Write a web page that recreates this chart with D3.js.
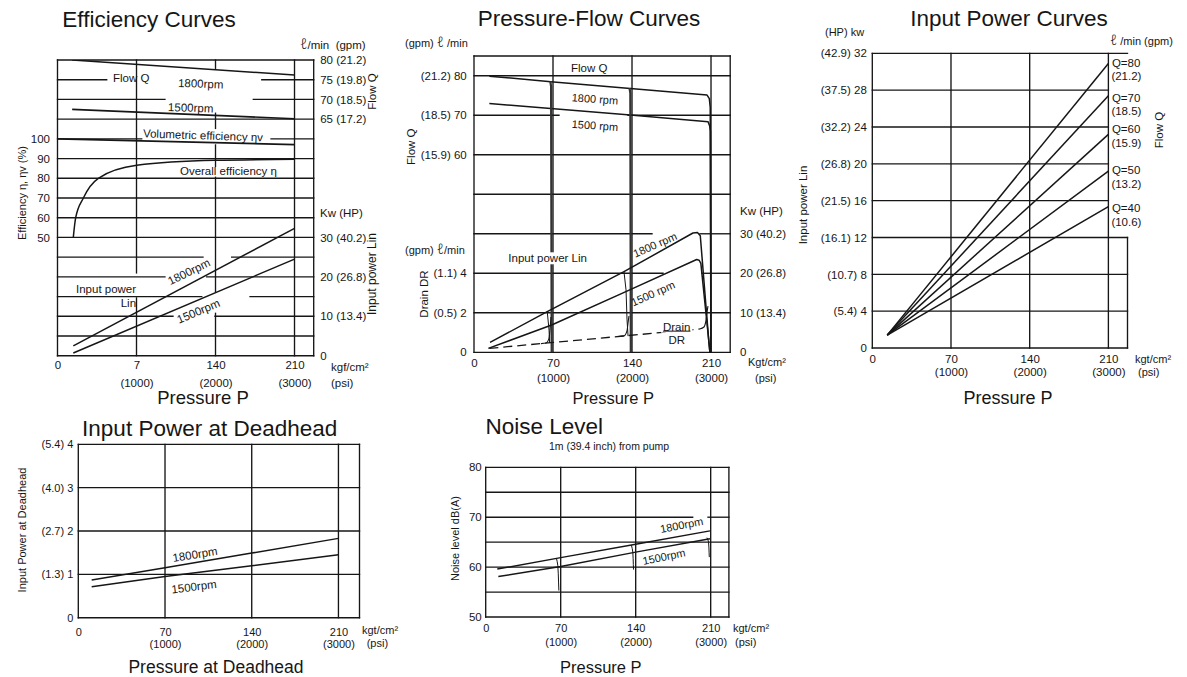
<!DOCTYPE html>
<html><head><meta charset="utf-8">
<script src="https://cdn.jsdelivr.net/npm/d3@7"></script>
<style>body{margin:0;background:#fff}</style>
</head><body>
<script>
// ================= DATA =================
const pressureTicks = [0, 70, 140, 210];
const pressureLabels = ['0', '70', '140', '210'];
const pressureLabelsEff = ['0', '7', '140', '210'];
const psiLabels = ['', '(1000)', '(2000)', '(3000)'];

// --- Efficiency Curves ---
const effFlowTicks = [80, 75, 70, 65];
const effFlowLabels = ['80 (21.2)', '75 (19.8)', '70 (18.5)', '65 (17.2)'];
const effEffTicks = [100, 90, 80, 70, 60, 50];
const effPowerTicks = [30, 20, 10, 0];
const effPowerLabels = ['30 (40.2)', '20 (26.8)', '10 (13.4)', '0'];
const effFlow1800 = [[13, 80], [210, 76.2]];
const effFlow1500 = [[13, 67.5], [210, 65.1]];
const effVolumetric = [[0, 100], [210, 97.1]];
const effOverall = [[14, 50], [16.1, 60], [22.9, 70], [36.2, 80], [70.2, 86.6], [139.6, 89.1], [210, 89.6]];
const effPower1800 = [[14, 2.5], [210, 32.3]];
const effPower1500 = [[14, 0.7], [210, 24.5]];
const effRows = d3.range(0, 16);
const effHGaps = [[1, 43.6, 181], [2, 95.2, 173.5], [4, 74.6, 189.2], [10, 128.9, 154.3], [11, 95.2, 132.2], [12, 127.8, 170.6], [13, 102.3, 139.5]];
const effVGaps = [[140, 0.42, 2.7], [140, 3.47, 4.31], [140, 5.4, 5.95], [140, 11.76, 12.85], [70, 10.8, 12.07]];

// --- Pressure-Flow Curves ---
const pfFlowTicks = [80, 70, 60];
const pfFlowLabels = ['(21.2) 80', '(18.5) 70', '(15.9) 60'];
const pfDrainTicks = [4, 2, 0];
const pfDrainLabels = ['(1.1) 4', '(0.5) 2', '0'];
const pfPowerTicks = [30, 20, 10, 0];
const pfPowerLabels = ['30 (40.2)', '20 (26.8)', '10 (13.4)', '0'];
const pfGridPower = [75, 70, 60, 50, 40, 30, 20, 10, 0];
const pfHGaps = [[60, 75.3, 136.5], [30, 157.7, 200.2], [20, 167.5, 202]];
const pfFlow1800 = [[13.6, 79.9], [68, 78.5], [138.5, 76.8], [206.5, 75.1], [208.5, 74.2], [209.3, 72], [210, 0]];
const pfFlow1500 = [[13.6, 73], [68, 71.7], [138.5, 70.05], [207.4, 68.35], [208.8, 67.3], [209.5, 66], [210, 0]];
const pfFlowCut70 = [[67.6, 78.6], [68.3, 77.3], [68.9, 0]];
const pfFlowCut140 = [[137.8, 76.9], [138.5, 75.6], [139, 0]];
const pfPower1800 = [[14.2, 2.5], [64.9, 10.3], [132.9, 20.4], [194, 30.2], [198, 30.3], [200.5, 29.5], [208, 3], [209, 0]];
const pfPower1500 = [[12.7, 1.0], [68.8, 6.9], [138, 15.8], [197.3, 23.5], [199.5, 23.3], [201, 22.5], [208, 3], [209, 0]];
const pfPowerCut70 = [[64.9, 10.3], [66.5, 5.6], [67, 2.35]];
const pfPowerCut140 = [[132.9, 20.4], [134.7, 15.8], [135.6, 8.2], [136.5, 4.1]];
const pfDrain = [[13.6, 0.2], [200, 1.18]];
const pfDrainRise70 = [[59.4, 0.44], [63.8, 0.47], [66.5, 0.72], [67.3, 1.13], [68.2, 1.79]];
const pfDrainRise140 = [[127.6, 0.8], [132.9, 0.83], [135.6, 1.1], [136.5, 1.5], [137.3, 1.84]];
const pfDrainRise210 = [[200, 1.18], [203.8, 1.28], [205.6, 1.64], [206.5, 2.04], [207.3, 2.34]];

// --- Input Power Curves ---
const ipcPowerTicks = [32, 28, 24, 20, 16, 12, 8, 4, 0];
const ipcPowerLabels = ['(42.9) 32', '(37.5) 28', '(32.2) 24', '(26.8) 20', '(21.5) 16', '(16.1) 12', '(10.7) 8', '(5.4) 4', '0'];
const ipcFlowLabels = ['Q=80', 'Q=70', 'Q=60', 'Q=50', 'Q=40'];
const ipcGpmLabels = ['(21.2)', '(18.5)', '(15.9)', '(13.2)', '(10.6)'];
const ipcStart = [13.3, 1.4];
const ipcEndPower = [30.9, 27.4, 23.2, 19.2, 15.35];
const ipcLabelPower = [30.95, 27.15, 23.78, 19.33, 15.2];

// --- Input Power at Deadhead ---
const dhPowerTicks = [4, 3, 2, 1, 0];
const dhPowerLabels = ['(5.4) 4', '(4.0) 3', '(2.7) 2', '(1.3) 1', '0'];
const dh1800 = [[10.8, 0.87], [70, 1.15], [140, 1.49], [210, 1.83]];
const dh1500 = [[10.8, 0.715], [70, 0.95], [140, 1.2], [210, 1.45]];

// --- Noise Level ---
const noiseTicks = [80, 70, 60, 50];
const noiseGrid = [80, 75, 70, 65, 60, 55, 50];
const noiseHGaps = [[70, 193.2, 207.5]];
const noise1800 = [[10.8, 59.6], [70, 61.9], [140, 64.6], [209.3, 67.26]];
const noise1500 = [[11.8, 58.1], [70, 60.1], [140, 63], [209.3, 65.7]];
const noiseDip70 = [[66, 61.8], [67.3, 60.3], [68, 57], [68.3, 55.3]];
const noiseDip140 = [[136, 64.4], [137.3, 63], [137.8, 60.5], [138, 59.5]];
const noiseDip210 = [[206.5, 65.9], [208, 65], [208.5, 63], [208.7, 62]];

// ================= DRAWING =================
const FONT = "'Liberation Sans', Arial, Helvetica, sans-serif";
const INK = '#161616';
const GW = 1.35;
const TITLE = 22.5;
const svg = d3.select('body').append('svg').attr('width', 1187).attr('height', 677).style('display', 'block');
svg.append('rect').attr('width', 1187).attr('height', 677).attr('fill', '#fff');
const defs = svg.append('defs');

function addClip(id, x, y, w, h) {
  defs.append('clipPath').attr('id', id).append('rect').attr('x', x).attr('y', y).attr('width', w).attr('height', h);
}
function text(g, x, y, s, o = {}) {
  const t = g.append('text').attr('x', x).attr('y', y)
    .attr('font-family', FONT).attr('font-size', o.size || 11).attr('fill', INK)
    .attr('text-anchor', o.anchor || 'start');
  const parts = String(s).split(/(ℓ)/);
  parts.forEach(p => {
    if (!p) return;
    const ts = t.append('tspan').text(p);
    if (p === 'ℓ') ts.attr('font-size', '1.3em').attr('font-family', "'Noto Sans', 'Open Sans', sans-serif").attr('font-weight', 300);
  });
  if (!o.base) t.attr('dy', '0.35em');
  if (o.rotate) t.attr('transform', `rotate(${o.rotate},${x},${y})`);
  if (o.bg) {
    const b = t.node().getBBox();
    g.insert('rect', () => t.node()).attr('x', b.x - 2).attr('y', b.y).attr('width', b.width + 4).attr('height', b.height)
      .attr('fill', '#fff').attr('transform', o.rotate ? `rotate(${o.rotate},${x},${y})` : null);
  }
  return t;
}
function segments(a, b, gaps) {
  let s = [[a, b]];
  gaps.forEach(([g0, g1]) => {
    s = s.flatMap(([s0, s1]) => {
      if (g1 <= s0 || g0 >= s1) return [[s0, s1]];
      const out = [];
      if (g0 > s0) out.push([s0, g0]);
      if (g1 < s1) out.push([g1, s1]);
      return out;
    });
  });
  return s;
}
function hGrid(g, x, yPix, p0, p1, gaps = []) {
  segments(p0, p1, gaps).forEach(([a, b]) => g.append('line')
    .attr('x1', x(a)).attr('x2', x(b)).attr('y1', yPix).attr('y2', yPix)
    .attr('stroke', INK).attr('stroke-width', GW).attr('stroke-linecap', 'square'));
}
function vGrid(g, xPix, y, v0, v1, gaps = []) {
  segments(v0, v1, gaps).forEach(([a, b]) => g.append('line')
    .attr('x1', xPix).attr('x2', xPix).attr('y1', y(a)).attr('y2', y(b))
    .attr('stroke', INK).attr('stroke-width', GW).attr('stroke-linecap', 'square'));
}
function curve(g, x, y, data, o = {}) {
  g.append('path').datum(data)
    .attr('d', d3.line().x(d => x(d[0])).y(d => y(d[1])).curve(o.curve || d3.curveLinear))
    .attr('fill', 'none').attr('stroke', o.color || INK).attr('stroke-width', o.width || 1.5)
    .attr('stroke-dasharray', o.dash || null).attr('stroke-linejoin', 'round')
    .attr('clip-path', o.clip ? `url(#${o.clip})` : null);
}
function styleAxis(a, size) {
  a.select('.domain').remove();
  a.attr('font-family', FONT).attr('font-size', size);
  a.selectAll('text').attr('fill', INK);
  return a;
}
function leftAxis(g, y, xPix, ticks, labels, pad, size = 11.5) {
  return styleAxis(g.append('g').attr('transform', `translate(${xPix},0)`)
    .call(d3.axisLeft(y).tickValues(ticks).tickSize(0).tickPadding(pad).tickFormat((d, i) => labels[i])), size);
}
function rightAxis(g, y, xPix, ticks, labels, pad, size = 11.5) {
  return styleAxis(g.append('g').attr('transform', `translate(${xPix},0)`)
    .call(d3.axisRight(y).tickValues(ticks).tickSize(0).tickPadding(pad).tickFormat((d, i) => labels[i])), size);
}
function bottomAxis(g, x, yPix, labels, off, size = 11.5) {
  const a = styleAxis(g.append('g').attr('transform', `translate(0,${yPix})`)
    .call(d3.axisBottom(x).tickValues(pressureTicks).tickSize(0).tickFormat((d, i) => labels[i])), size);
  a.selectAll('text').attr('y', off).attr('dy', '0.35em');
}

// ---------- Panel 1: Efficiency Curves ----------
{
  const g = svg.append('g');
  const x = d3.scaleLinear([0, 227], [57.5, 313.7]);
  const row = d3.scaleLinear([0, 15], [60, 355.7]);
  const yFlow = d3.scaleLinear([80, 5], [60, 355.7]);
  const yEff = d3.scaleLinear([140, -10], [60, 355.7]);
  const yPow = d3.scaleLinear([75, 0], [60, 355.7]);
  addClip('c1', 57.5, 60, 256.2, 295.7);

  effRows.forEach(r => hGrid(g, x, row(r), 0, 227, effHGaps.filter(d => d[0] === r).map(d => [d[1], d[2]])));
  [0, 70, 140, 210, 227].forEach(p => vGrid(g, x(p), row, 0, 15, effVGaps.filter(d => d[0] === p).map(d => [d[1], d[2]])));

  curve(g, x, yFlow, effFlow1800, { clip: 'c1' });
  curve(g, x, yFlow, effFlow1500, { clip: 'c1', width: 1.7 });
  curve(g, x, yEff, effVolumetric, { clip: 'c1', width: 1.7 });
  curve(g, x, yEff, effOverall, { clip: 'c1', curve: d3.curveMonotoneX });
  curve(g, x, yPow, effPower1800, { clip: 'c1' });
  curve(g, x, yPow, effPower1500, { clip: 'c1' });

  text(g, x(49.2), yFlow(75.4), 'Flow Q', { size: 11.5 });
  text(g, x(106.8), yFlow(74.2), '1800rpm', { size: 11.5, rotate: 2 });
  text(g, x(97.9), yFlow(68.1), '1500rpm', { size: 11.5, rotate: 2 });
  text(g, x(75.8), yEff(102.8), 'Volumetric efficiency ηv', { size: 11.5, rotate: 2 });
  text(g, x(108.5), yEff(83.6), 'Overall efficiency η', { size: 11.5 });
  text(g, x(16.4), yPow(16.8), 'Input power', { size: 11.5 });
  text(g, x(56), yPow(13.3), 'Lin', { size: 11.5 });
  text(g, x(116.5), yPow(21.3), '1800rpm', { size: 11.5, anchor: 'middle', rotate: -26 });
  text(g, x(124.8), yPow(11.3), '1500rpm', { size: 11.5, anchor: 'middle', rotate: -23 });

  leftAxis(g, yEff, 57.5, effEffTicks, effEffTicks.map(String), 7.5);
  rightAxis(g, yFlow, 313.7, effFlowTicks, effFlowLabels, 6.5);
  rightAxis(g, yPow, 313.7, effPowerTicks, effPowerLabels, 6.5);
  bottomAxis(g, x, 355.7, pressureLabelsEff, 9.5);
  bottomAxis(g, x, 355.7, psiLabels, 27);

  text(g, 149, 27, 'Efficiency Curves', { size: TITLE, anchor: 'middle', base: true });
  text(g, 300, 45, 'ℓ/min\u00a0\u00a0(gpm)', { size: 11.5 });
  text(g, 320, 213, 'Kw (HP)', { size: 11.5 });
  text(g, 372, 91.5, 'Flow Q', { size: 11.5, anchor: 'middle', rotate: -90 });
  text(g, 372, 274, 'Input power Lin', { size: 12, anchor: 'middle', rotate: -90 });
  text(g, 22, 193, 'Efficiency η, ηv (%)', { size: 11, anchor: 'middle', rotate: -90 });
  text(g, 331, 367, 'kgf/cm²', { size: 11.5 });
  text(g, 331, 382.5, '(psi)', { size: 11.5 });
  text(g, 203, 403.5, 'Pressure P', { size: 18.5, anchor: 'middle', base: true });
}

// ---------- Panel 2: Pressure-Flow Curves ----------
{
  const g = svg.append('g');
  const x = d3.scaleLinear([0, 227], [474, 730.2]);
  const yPow = d3.scaleLinear([75, 0], [56, 352.3]);
  const yFlow = d3.scaleLinear([85, 10], [56, 352.3]);
  const yDrain = d3.scaleLinear([15, 0], [56, 352.3]);
  addClip('c2', 474, 56, 256.2, 296.3);

  pfGridPower.forEach(v => hGrid(g, x, yPow(v), 0, 227, pfHGaps.filter(d => d[0] === v).map(d => [d[1], d[2]])));
  [0, 70, 140, 210, 227].forEach(p => vGrid(g, x(p), yPow, 0, 75));

  curve(g, x, yFlow, pfFlow1800, { clip: 'c2' });
  curve(g, x, yFlow, pfFlow1500, { clip: 'c2' });
  curve(g, x, yFlow, pfFlowCut70, { clip: 'c2', width: 2.2, color: '#333' });
  curve(g, x, yFlow, pfFlowCut140, { clip: 'c2', width: 2.2, color: '#333' });
  curve(g, x, yPow, pfPower1800, { clip: 'c2' });
  curve(g, x, yPow, pfPower1500, { clip: 'c2' });
  curve(g, x, yPow, pfPowerCut70, { clip: 'c2', width: 1 });
  curve(g, x, yPow, pfPowerCut140, { clip: 'c2', width: 1 });
  curve(g, x, yDrain, pfDrain, { clip: 'c2', dash: '9 5', width: 1.3 });
  curve(g, x, yDrain, pfDrainRise70, { clip: 'c2', width: 1.1, curve: d3.curveMonotoneX });
  curve(g, x, yDrain, pfDrainRise140, { clip: 'c2', width: 1.1, curve: d3.curveMonotoneX });
  curve(g, x, yDrain, pfDrainRise210, { clip: 'c2', width: 1.1, curve: d3.curveMonotoneX });

  text(g, x(85.9), yFlow(82.0), 'Flow Q', { size: 11.5 });
  text(g, x(86.6), yFlow(74.5), '1800 rpm', { size: 11, rotate: 4 });
  text(g, x(86.6), yFlow(67.8), '1500 rpm', { size: 11, rotate: 4 });
  text(g, x(30.4), yPow(23.8), 'Input power Lin', { size: 11.5, bg: true });
  text(g, x(160.4), yPow(27.2), '1800 rpm', { size: 11, anchor: 'middle', rotate: -24 });
  text(g, x(158.6), yPow(14.9), '1500 rpm', { size: 11, anchor: 'middle', rotate: -24 });
  const dr = text(g, x(179.6), yDrain(1.3), 'Drain', { size: 11.5, anchor: 'middle', bg: true });
  const bb = dr.node().getBBox();
  g.append('line').attr('x1', bb.x).attr('x2', bb.x + bb.width).attr('y1', bb.y + bb.height - 1.5).attr('y2', bb.y + bb.height - 1.5)
    .attr('stroke', INK).attr('stroke-width', 1);
  text(g, x(179.6), yDrain(0.6), 'DR', { size: 11.5, anchor: 'middle' });

  leftAxis(g, yFlow, 474, pfFlowTicks, pfFlowLabels, 7.3);
  leftAxis(g, yDrain, 474, pfDrainTicks, pfDrainLabels, 7.3);
  rightAxis(g, yPow, 730.2, pfPowerTicks, pfPowerLabels, 9.8);
  bottomAxis(g, x, 352.3, pressureLabels, 11);
  bottomAxis(g, x, 352.3, psiLabels, 26);

  text(g, 589, 26, 'Pressure-Flow Curves', { size: TITLE, anchor: 'middle', base: true });
  text(g, 405, 43.3, '(gpm) ℓ /min', { size: 11 });
  text(g, 405, 250, '(gpm) ℓ/min', { size: 11 });
  text(g, 411, 146.7, 'Flow Q', { size: 11.5, anchor: 'middle', rotate: -90 });
  text(g, 424, 294, 'Drain DR', { size: 11.5, anchor: 'middle', rotate: -90 });
  text(g, 740, 210.7, 'Kw (HP)', { size: 11.5 });
  text(g, 748, 362, 'Kgt/cm²', { size: 11 });
  text(g, 755, 378.3, '(psi)', { size: 11 });
  text(g, 613.3, 403.5, 'Pressure P', { size: 16.5, anchor: 'middle', base: true });
}

// ---------- Panel 3: Input Power Curves ----------
{
  const g = svg.append('g');
  const x = d3.scaleLinear([0, 227], [872.3, 1127.5]);
  const y = d3.scaleLinear([0, 32], [348, 53.3]);

  ipcPowerTicks.forEach(v => hGrid(g, x, y(v), 0, (v >= 16 && v < 32) ? 210 : 227));
  [0, 70, 140, 210].forEach(p => vGrid(g, x(p), y, 0, 32));
  vGrid(g, x(227), y, 0, 12);

  ipcEndPower.forEach(e => curve(g, x, y, [ipcStart, [210, e]]));
  ipcFlowLabels.forEach((s, i) => {
    text(g, x(210) + 3.5, y(ipcLabelPower[i]), s, { size: 11.5 });
    text(g, x(210) + 3, y(ipcLabelPower[i]) + 13.5, ipcGpmLabels[i], { size: 11.5 });
  });

  leftAxis(g, y, 872.3, ipcPowerTicks, ipcPowerLabels, 5.5);
  bottomAxis(g, x, 348, pressureLabels, 11);
  bottomAxis(g, x, 348, psiLabels, 23.7);

  text(g, 1009, 26, 'Input Power Curves', { size: TITLE, anchor: 'middle', base: true });
  text(g, 825, 32, '(HP) kw', { size: 11 });
  text(g, 1110, 41, 'ℓ /min (gpm)', { size: 11 });
  text(g, 1159, 130, 'Flow Q', { size: 11.5, anchor: 'middle', rotate: -90 });
  text(g, 803, 205, 'Input power Lin', { size: 11.5, anchor: 'middle', rotate: -90 });
  text(g, 1135, 359, 'kgt/cm²', { size: 11 });
  text(g, 1138, 371.7, '(psi)', { size: 11 });
  text(g, 1008, 403.5, 'Pressure P', { size: 18, anchor: 'middle', base: true });
}

// ---------- Panel 4: Input Power at Deadhead ----------
{
  const g = svg.append('g');
  const x = d3.scaleLinear([0, 227], [78.3, 359.5]);
  const y = d3.scaleLinear([0, 4], [617.7, 444.3]);

  dhPowerTicks.forEach(v => hGrid(g, x, y(v), 0, 227));
  [0, 70, 140, 210, 227].forEach(p => vGrid(g, x(p), y, 0, 4));

  curve(g, x, y, dh1800);
  curve(g, x, y, dh1500);
  text(g, x(94.2), y(1.46), '1800rpm', { size: 11.5, anchor: 'middle', rotate: -9 });
  text(g, x(93.4), y(0.715), '1500rpm', { size: 11.5, anchor: 'middle', rotate: -7 });

  leftAxis(g, y, 78.3, dhPowerTicks, dhPowerLabels, 5, 11);
  bottomAxis(g, x, 617.7, pressureLabels, 14, 11);
  bottomAxis(g, x, 617.7, psiLabels, 26.3, 11);

  text(g, 209.7, 436, 'Input Power at Deadhead', { size: TITLE, anchor: 'middle', base: true });
  text(g, 22, 530, 'Input Power at Deadhead', { size: 11, anchor: 'middle', rotate: -90 });
  text(g, 362, 630, 'kgt/cm²', { size: 11 });
  text(g, 366.7, 643, '(psi)', { size: 11 });
  text(g, 216, 673, 'Pressure at Deadhead', { size: 17.5, anchor: 'middle', base: true });
}

// ---------- Panel 5: Noise Level ----------
{
  const g = svg.append('g');
  const x = d3.scaleLinear([0, 227], [485.7, 728.9]);
  const y = d3.scaleLinear([50, 80], [617, 467.3]);

  noiseGrid.forEach(v => hGrid(g, x, y(v), 0, 227, noiseHGaps.filter(d => d[0] === v).map(d => [d[1], d[2]])));
  [0, 70, 140, 210, 227].forEach(p => vGrid(g, x(p), y, 50, 80));

  curve(g, x, y, noise1800);
  curve(g, x, y, noise1500);
  [noiseDip70, noiseDip140, noiseDip210].forEach(d => curve(g, x, y, d, { width: 1, curve: d3.curveMonotoneY }));
  text(g, x(182.9), y(68.4), '1800rpm', { size: 11, anchor: 'middle', rotate: -11 });
  text(g, x(166.4), y(62.06), '1500rpm', { size: 11, anchor: 'middle', rotate: -12 });

  leftAxis(g, y, 485.7, noiseTicks, noiseTicks.map(String), 4, 11.5);
  bottomAxis(g, x, 617, pressureLabels, 11, 11);
  bottomAxis(g, x, 617, psiLabels, 25, 11);

  text(g, 544.2, 434.3, 'Noise Level', { size: TITLE, anchor: 'middle', base: true });
  text(g, 609, 446.7, '1m (39.4 inch) from pump', { size: 10.5, anchor: 'middle' });
  text(g, 455, 538.5, 'Noise level dB(A)', { size: 11, anchor: 'middle', rotate: -90 });
  text(g, 733, 627.7, 'kgt/cm²', { size: 11 });
  text(g, 735, 642, '(psi)', { size: 11 });
  text(g, 600.8, 673, 'Pressure P', { size: 16.5, anchor: 'middle', base: true });
}
</script>
</body></html>
